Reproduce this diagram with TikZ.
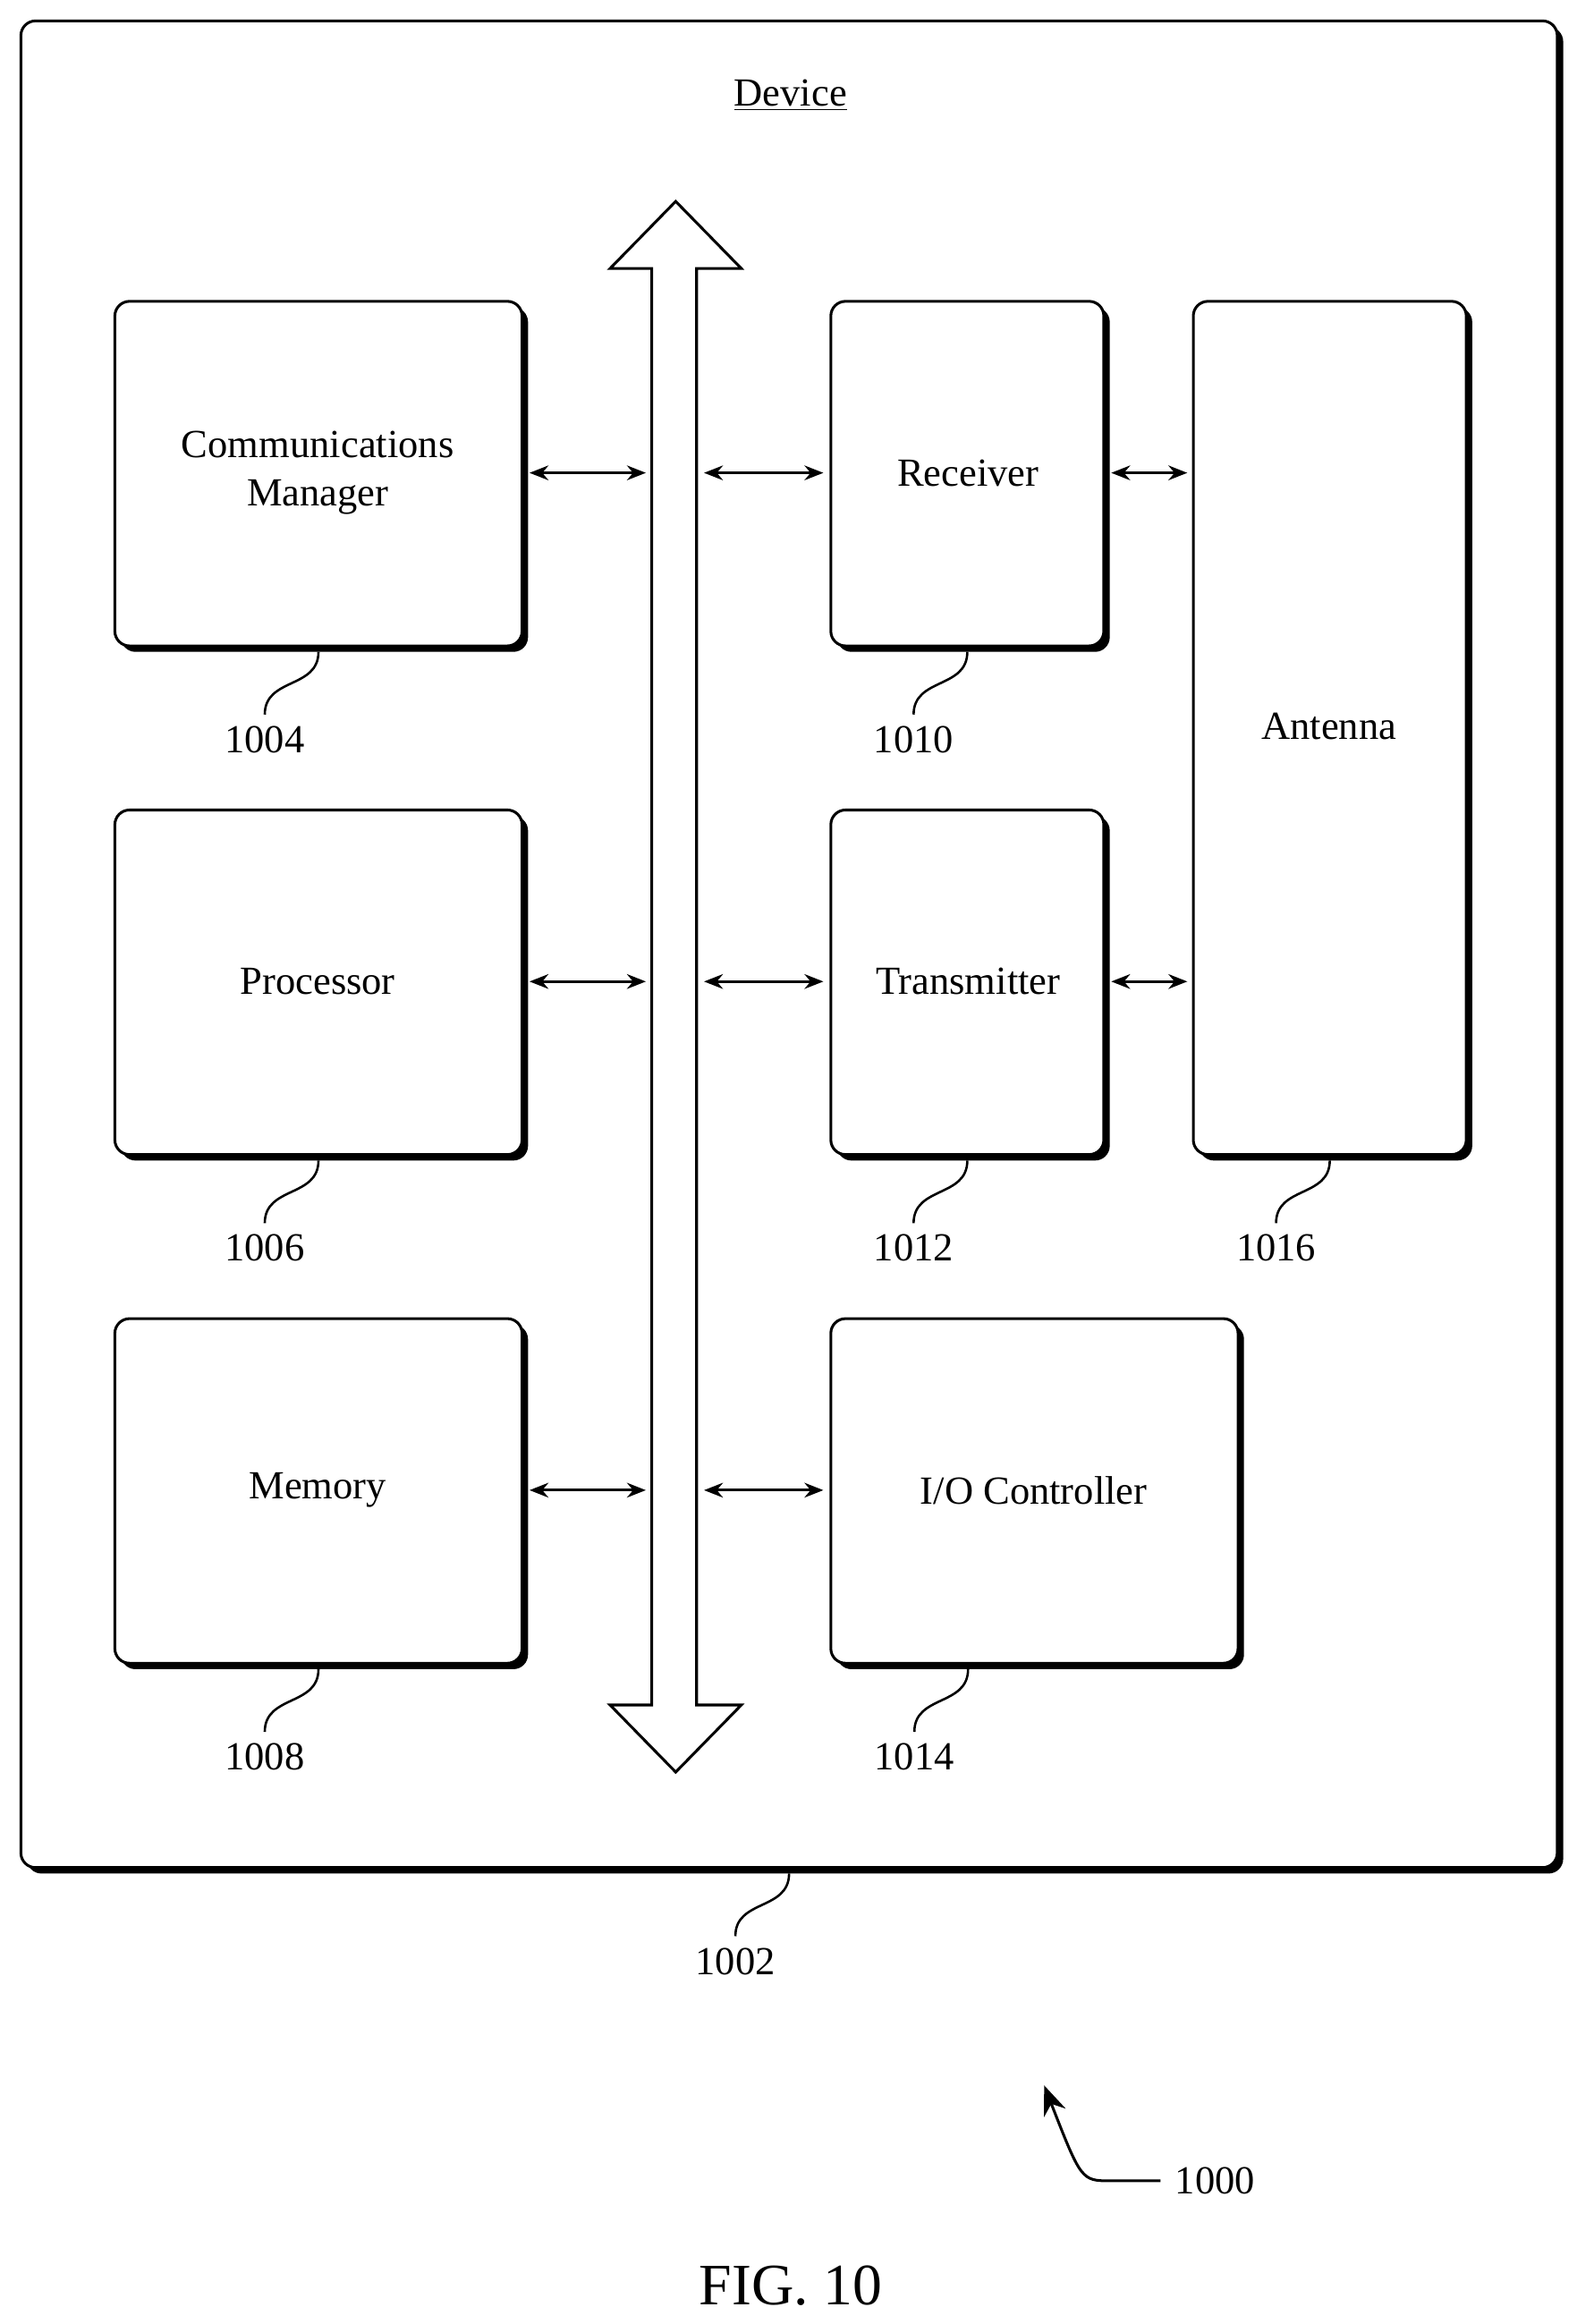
\documentclass[tikz,border=0pt]{standalone}
\usetikzlibrary{arrows.meta}
\usepackage{fontspec}
\setmainfont{Liberation Serif}
\begin{document}
\begin{tikzpicture}[x=0.025cm,y=-0.025cm,
  ln/.style={line width=1.3pt},
  txt/.style={font=\fontsize{19}{23}\selectfont,align=center},
  arr/.style={line width=1.3pt,<->,>={Stealth[length=9pt,width=7pt]}},
  sq/.style={line width=1.1pt}]
\useasboundingbox (0,0) rectangle (1057,1558);
\newcommand{\blk}[5]{% name, x1,y1,x2,y2
  \fill[black,rounded corners=7pt] (#2+4,#3+4) rectangle (#4+4,#5+4);
  \draw[ln,fill=white,rounded corners=7pt] (#2,#3) rectangle (#4,#5);
  \coordinate (#1) at ({(#2+#4)/2},{(#3+#5)/2});
  \coordinate (#1b) at ({(#2+#4)/2},#5+4);}
\newcommand{\lbl}[3]{% anchor coord name, label, name
  \draw[sq] (#1) .. controls ++(0,25) and ++(0,-25) .. ++(-36,42) coordinate (#3);
  \node[txt,anchor=north] at ([yshift=-2pt]#3) {#2};}
% outer
\blk{dev}{14}{14}{1044}{1252}
\node[txt] (devt) at (530,64) {\underline{Device}};
% bus
\draw[ln,fill=white] (437,180)--(409,180)--(453,135)--(497,180)--(467,180)--(467,1143)--(497,1143)--(453,1188)--(409,1143)--(437,1143)--cycle;
% blocks
\blk{cm}{77}{202}{350}{433}
\blk{pr}{77}{543}{350}{774}
\blk{me}{77}{884}{350}{1115}
\blk{rx}{557}{202}{740}{433}
\blk{tx}{557}{543}{740}{774}
\blk{io}{557}{884}{830}{1115}
\blk{an}{800}{202}{983}{774}
\coordinate (iob2) at (649,1119);
\node[txt] (cmt) at (213,317) {Communications\\Manager};
\node[txt] (prt) at (213,658) {Processor};
\node[txt] (met) at (213,999) {Memory};
\node[txt] (rxt) at (649,317) {Receiver};
\node[txt] (txt1) at (649,658) {Transmitter};
\node[txt] (iot) at (693,999) {I/O Controller};
\node[txt] (ant) at (891,487) {Antenna};
% arrows
\foreach \y in {317,658,999}{
  \draw[arr] (355,\y) -- (433,\y);
  \draw[arr] (472,\y) -- (552,\y);}
\foreach \y in {317,658}{\draw[arr] (745,\y) -- (796,\y);}
% labels
\lbl{cmb}{1004}{l4}
\lbl{prb}{1006}{l6}
\lbl{meb}{1008}{l8}
\lbl{rxb}{1010}{l10}
\lbl{txb}{1012}{l12}
\lbl{iob2}{1014}{l14}
\lbl{anb}{1016}{l16}
\lbl{devb}{1002}{l2}
% 1000
\node[txt,anchor=west] (n1000) at (783,1462) {1000};
\coordinate (a0) at (778,1462);
\draw[line width=1.3pt,-{Stealth[length=14pt,width=11pt]}] (a0) -- (745,1462) .. controls (725,1462) .. (700,1398);
\node[font=\fontsize{28}{32}\selectfont] (fig) at (530,1532) {FIG. 10};
\end{tikzpicture}
\end{document}
